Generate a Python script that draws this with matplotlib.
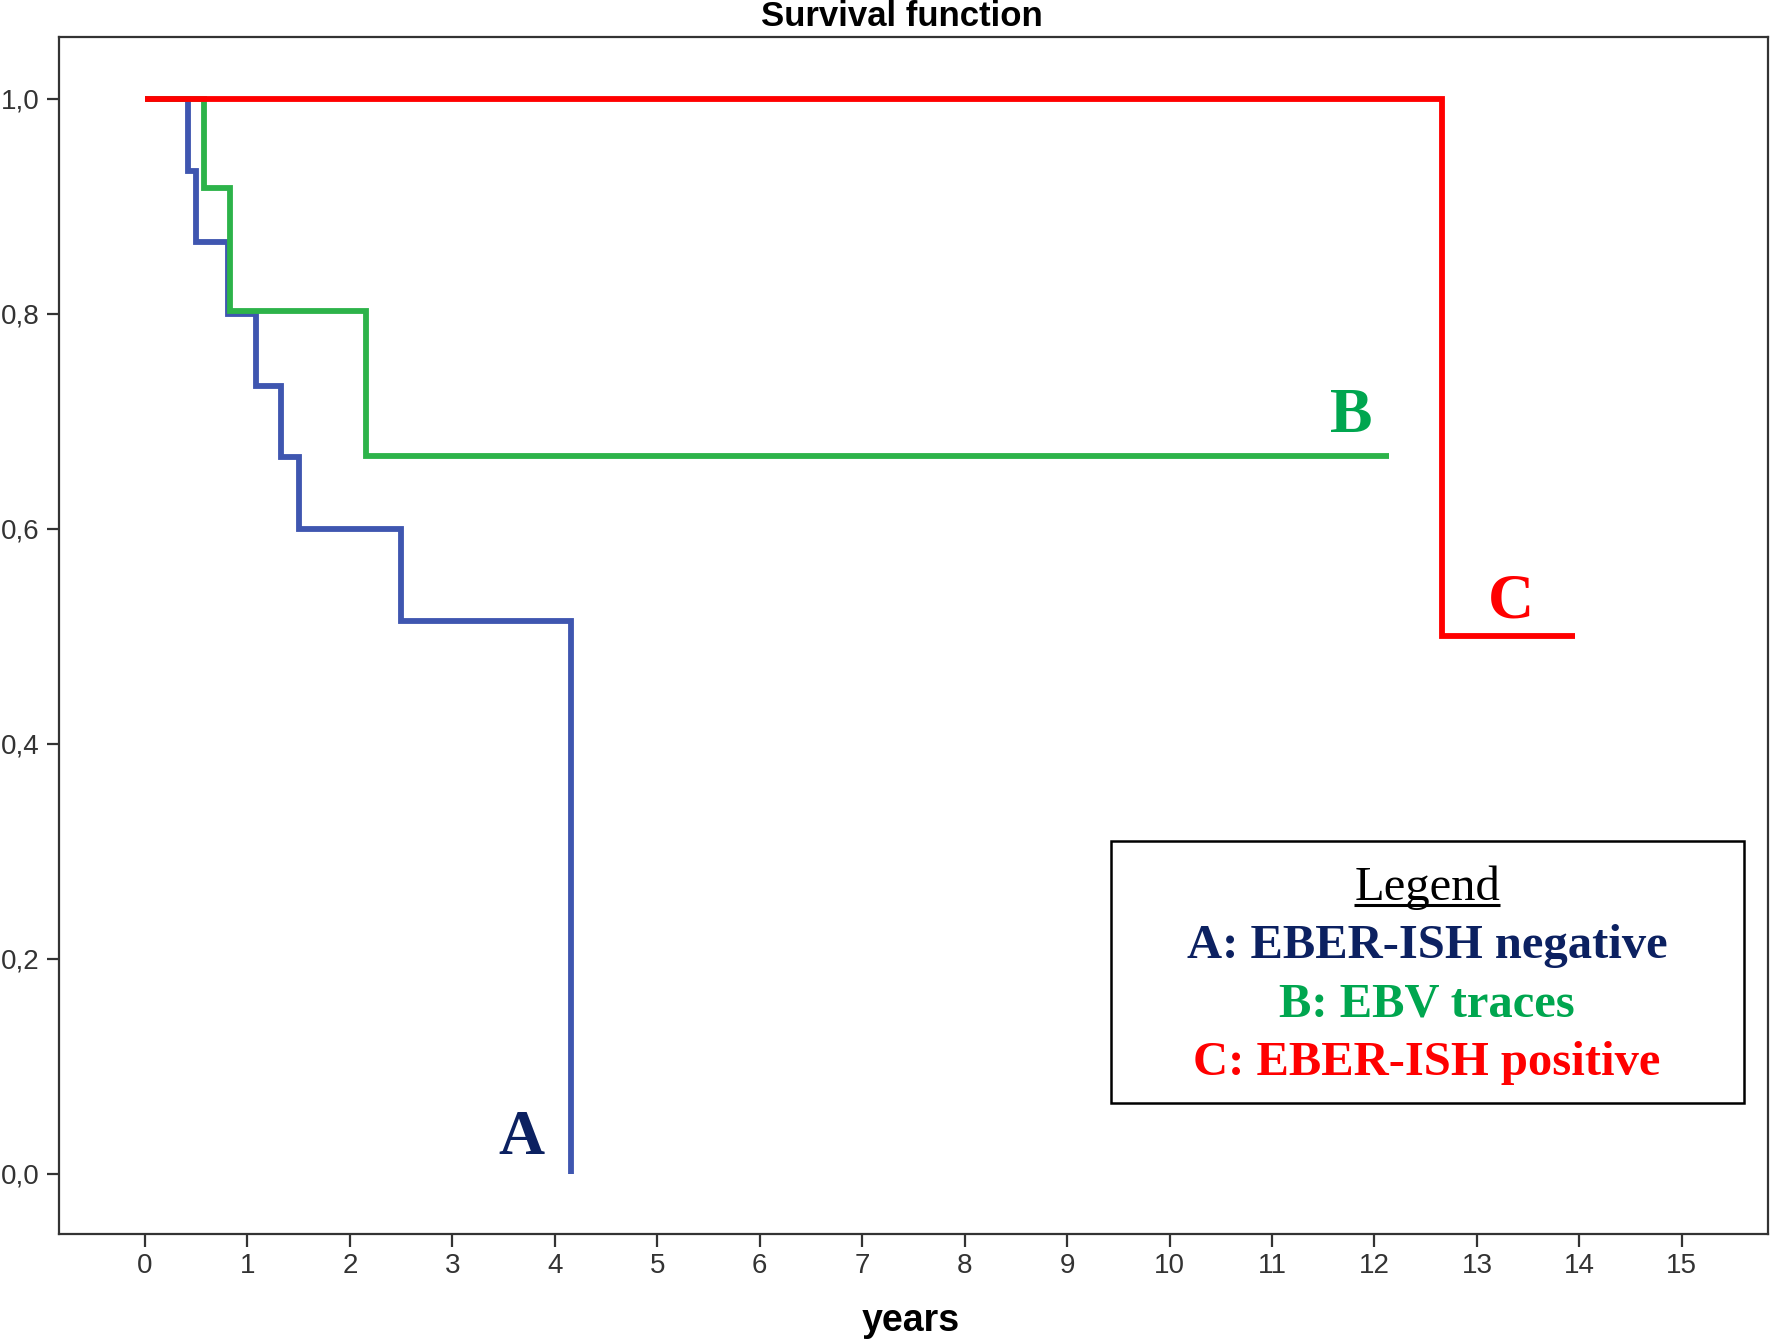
import matplotlib
matplotlib.use("Agg")
import matplotlib.pyplot as plt
from matplotlib.patches import Rectangle

# Kaplan-Meier curves (years, survival)
times_a = [0, 0.42, 0.50, 0.81, 1.08, 1.33, 1.50, 2.50, 4.16]
surv_a = [1.0, 0.933, 0.867, 0.800, 0.733, 0.667, 0.600, 0.514, 0.0]

times_b = [0, 0.58, 0.83, 2.16, 12.14]
surv_b = [1.0, 0.917, 0.802, 0.668, 0.668]

times_c = [0, 12.66, 13.96]
surv_c = [1.0, 0.5, 0.5]

curve_labels = ["A", "B", "C"]
label_pos = [(3.67, 0.018), (11.77, 0.690), (13.33, 0.517)]
legend_lines = ["A: EBER-ISH negative", "B: EBV traces", "C: EBER-ISH positive"]

xticks = list(range(0, 16))
yticks = [0.0, 0.2, 0.4, 0.6, 0.8, 1.0]
ytick_labels = ["0,0", "0,2", "0,4", "0,6", "0,8", "1,0"]

line_colors = ["#3f56b0", "#2db34a", "#ff0000"]
text_colors = ["#0c2161", "#00a64f", "#ff0000"]

serif = ["Liberation Serif", "DejaVu Serif"]
narrow = ["Liberation Sans Narrow", "Liberation Sans", "DejaVu Sans"]
sans = ["Liberation Sans", "DejaVu Sans"]

fig = plt.figure(figsize=(17.72, 13.42), dpi=100)
ax = fig.add_axes([0.0332, 0.0805, 0.9645, 0.8917])

for t, s, c in zip([times_a, times_b, times_c], [surv_a, surv_b, surv_c], line_colors):
    ax.step(t, s, where="post", color=c, lw=4.2, solid_joinstyle="miter", solid_capstyle="butt")

ax.set_xlim(-0.84, 15.84)
ax.set_ylim(-0.056, 1.057)

ax.set_xticks(xticks)
ax.set_xticklabels([str(x) for x in xticks], family=narrow, fontsize=20, color="#333333")
ax.set_yticks(yticks)
ax.set_yticklabels(ytick_labels, family=narrow, fontsize=20, color="#333333")
ax.tick_params(direction="out", length=9, width=1.6, color="#333333", pad=5)

for sp in ax.spines.values():
    sp.set_linewidth(1.6)
    sp.set_color("#333333")

# letters next to the curves
for lab, (x, y), c in zip(curve_labels, label_pos, text_colors):
    ax.text(x, y, lab, color=c, family=serif, fontweight="bold", fontsize=46,
            ha="center", va="baseline")

# hand made legend box
ax.add_patch(Rectangle((0.6157, 0.1095), 0.3702, 0.2190, transform=ax.transAxes,
                       fill=False, edgecolor="black", lw=1.8, zorder=5))
leg_x = 0.8006
title_txt = ax.text(leg_x, 0.279, "Legend", transform=ax.transAxes, family=serif,
                    fontsize=35, ha="center", va="baseline", color="black", zorder=6)
for i, (line, c) in enumerate(zip(legend_lines, text_colors)):
    ax.text(leg_x, 0.2306 - i * 0.0489, line, transform=ax.transAxes, family=serif,
            fontweight="bold", fontsize=35, ha="center", va="baseline", color=c, zorder=6)

# underline the legend title
fig.canvas.draw()
bb = title_txt.get_window_extent().transformed(ax.transAxes.inverted())
ax.plot([bb.x0, bb.x1], [0.2745, 0.2745], transform=ax.transAxes, color="black", lw=2.2,
        solid_capstyle="butt", zorder=6)

fig.text(0.509, 0.988, "Survival function", family=sans, fontweight="bold",
         fontsize=25, ha="center", va="center")
fig.text(0.514, 0.0155, "years", family=sans, fontweight="bold",
         fontsize=27, ha="center", va="center")

fig.savefig("out.png", dpi=100)
